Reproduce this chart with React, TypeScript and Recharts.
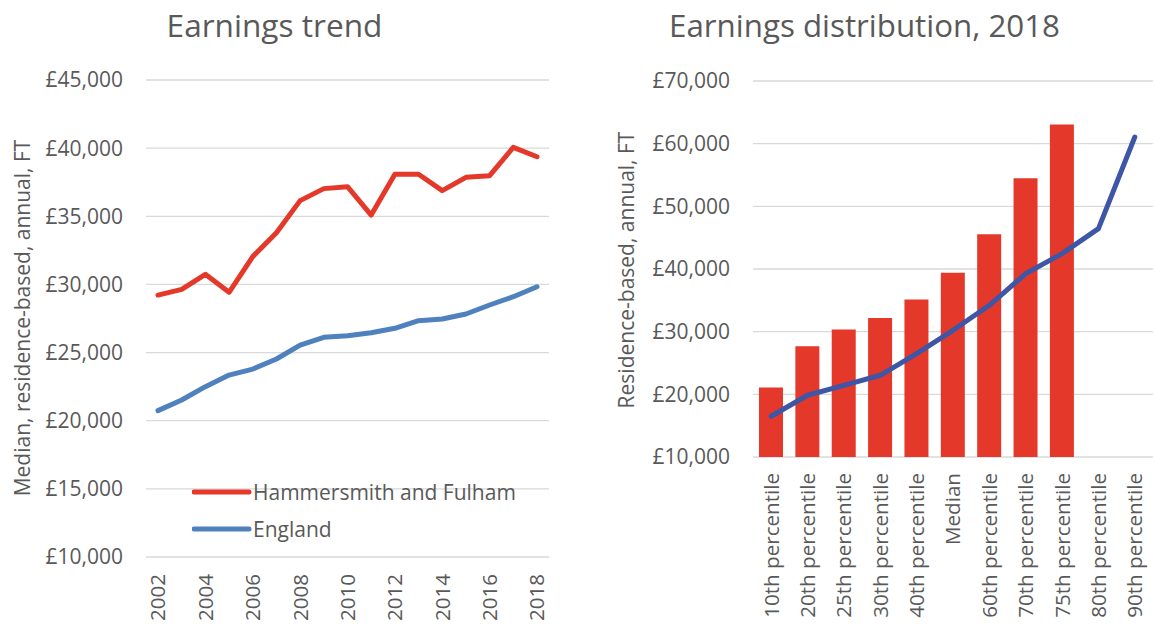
import React from 'react';
import { LineChart, Line, ComposedChart, Bar, XAxis, YAxis, CartesianGrid, Legend } from 'recharts';

const years = ['2002','2003','2004','2005','2006','2007','2008','2009','2010','2011','2012','2013','2014','2015','2016','2017','2018'];
const hammersmith = [29220, 29640, 30740, 29420, 32040, 33800, 36150, 37030, 37170, 35090, 38080, 38080, 36880, 37860, 37980, 40060, 39370];
const england = [20740, 21520, 22500, 23350, 23790, 24530, 25550, 26120, 26240, 26460, 26780, 27340, 27460, 27830, 28490, 29100, 29830];
const trendTicks = [10000, 15000, 20000, 25000, 30000, 35000, 40000, 45000];

const percentiles = ['10th percentile','20th percentile','25th percentile','30th percentile','40th percentile','Median','60th percentile','70th percentile','75th percentile','80th percentile','90th percentile'];
const hfDist: (number | null)[] = [21080, 27670, 30330, 32180, 35120, 39420, 45540, 54470, 63040, null, null];
const engDist = [16500, 19850, 21440, 23040, 26500, 30220, 34210, 39260, 42450, 46440, 61060];
const distTicks = [10000, 20000, 30000, 40000, 50000, 60000, 70000];

const trendData = years.map((y, i) => ({ year: y, hf: hammersmith[i], eng: england[i] }));
const distData = percentiles.map((p, i) => ({ p, hf: hfDist[i], eng: engDist[i] }));

const FONT = '"Open Sans", sans-serif';
const TXT = '#595959';
const GRID = '#d9d9d9';
const RED = '#E4382A';
const BLUE = '#4F81BF';
const DARKBLUE = '#3D56A6';

const fmt = (v: number) => '£' + v.toLocaleString('en-GB');

const RotTick = (props: any) => {
  const { x, y, payload } = props;
  return (
    <text transform={`translate(${x},${y}) rotate(-90)`} textAnchor="end" dy="0.36em" fill={TXT} fontSize={20.6} fontFamily={FONT}>
      {payload.value}
    </text>
  );
};

const LegendContent = () => {
  const items = [
    { label: 'Hammersmith and Fulham', color: RED },
    { label: 'England', color: BLUE },
  ];
  return (
    <svg width={340} height={80}>
      {items.map((it, i) => (
        <g key={it.label}>
          <line x1={2} x2={57} y1={14 + i * 37} y2={14 + i * 37} stroke={it.color} strokeWidth={5} strokeLinecap="round" />
          <text x={61} y={14 + i * 37} dy="0.36em" fill={TXT} fontSize={21} fontFamily={FONT}>{it.label}</text>
        </g>
      ))}
    </svg>
  );
};

export default function App() {
  return (
    <div style={{ position: 'absolute', left: 0, top: 0, width: 1155, height: 626, background: '#fff', fontFamily: FONT }}>
      <div style={{ position: 'absolute', left: 0, top: 0 }}>
        <LineChart width={570} height={626} data={trendData} margin={{ top: 80, right: 21, bottom: 0, left: 0 }}>
          <CartesianGrid vertical={false} stroke={GRID} strokeWidth={1.3} />
          <XAxis dataKey="year" interval={1} padding={{ left: 12, right: 12 }} axisLine={false} tickLine={false} tickSize={0} tickMargin={17} height={69} tick={<RotTick />} />
          <YAxis domain={[10000, 45000]} ticks={trendTicks} width={146} axisLine={false} tickLine={false} tickSize={0} tickMargin={23} tickFormatter={fmt} tick={{ fill: TXT, fontSize: 21, fontFamily: FONT }} />
          <Legend layout="vertical" verticalAlign="middle" align="center" wrapperStyle={{ left: 192, top: 478, width: 340, height: 80 }} content={<LegendContent />} />
          <Line dataKey="hf" stroke={RED} strokeWidth={5} dot={false} isAnimationActive={false} strokeLinejoin="round" strokeLinecap="round" />
          <Line dataKey="eng" stroke={BLUE} strokeWidth={5} dot={false} isAnimationActive={false} strokeLinejoin="round" strokeLinecap="round" />
        </LineChart>
      </div>
      <div style={{ position: 'absolute', left: 580, top: 0 }}>
        <ComposedChart width={575} height={626} data={distData} margin={{ top: 81, right: 2, bottom: 0, left: 0 }} barCategoryGap="17%">
          <CartesianGrid vertical={false} stroke={GRID} strokeWidth={1.3} />
          <XAxis dataKey="p" interval={0} axisLine={false} tickLine={false} tickSize={0} tickMargin={16} height={169} tick={<RotTick />} />
          <YAxis domain={[10000, 70000]} ticks={distTicks} width={173} axisLine={false} tickLine={false} tickSize={0} tickMargin={23} tickFormatter={fmt} tick={{ fill: TXT, fontSize: 21, fontFamily: FONT }} />
          <Bar dataKey="hf" fill={RED} barSize={24} isAnimationActive={false} />
          <Line dataKey="eng" stroke={DARKBLUE} strokeWidth={5} dot={false} isAnimationActive={false} strokeLinejoin="round" strokeLinecap="round" />
        </ComposedChart>
      </div>
      <svg width={1155} height={626} style={{ position: 'absolute', left: 0, top: 0, pointerEvents: 'none' }}>
        <text x={274.5} y={37} textAnchor="middle" fill={TXT} fontSize={31.6} fontFamily={FONT}>Earnings trend</text>
        <text x={864.5} y={37} textAnchor="middle" fill={TXT} fontSize={31.3} fontFamily={FONT}>Earnings distribution, 2018</text>
        <text transform="translate(22,318) rotate(-90)" textAnchor="middle" dy="0.36em" fill={TXT} fontSize={21} fontFamily={FONT}>Median, residence-based, annual, FT</text>
        <text transform="translate(626,270) rotate(-90)" textAnchor="middle" dy="0.36em" fill={TXT} fontSize={21} fontFamily={FONT}>Residence-based, annual, FT</text>
      </svg>
    </div>
  );
}
